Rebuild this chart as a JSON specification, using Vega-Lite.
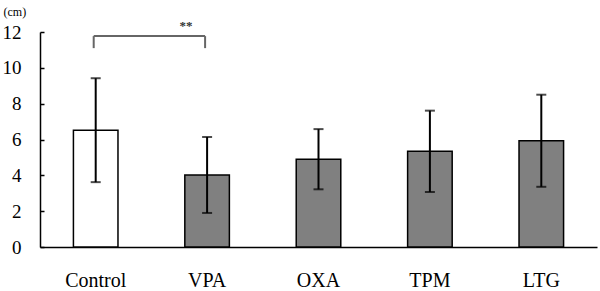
{
  "$schema": "https://vega.github.io/schema/vega-lite/v6.json",
  "width": 557,
  "height": 215,
  "autosize": {"type": "none"},
  "padding": {"left": 40, "top": 32, "right": 3, "bottom": 44},
  "background": "white",
  "config": {
    "view": {"stroke": null},
    "font": "Liberation Serif",
    "axis": {"labelFont": "Liberation Serif", "titleFont": "Liberation Serif"},
    "axisY": {
      "title": "(cm)",
      "titleAngle": 0,
      "titleFontSize": 12,
      "titleFontWeight": "normal",
      "titleAlign": "left",
      "titleBaseline": "middle",
      "titleX": -37,
      "titleY": -21,
      "titleColor": "#000",
      "labelOverlap": false,
      "grid": false,
      "tickSize": -4,
      "tickColor": "#000",
      "tickWidth": 1.5,
      "domainColor": "#000",
      "domainWidth": 1.5,
      "labelFontSize": 19,
      "labelColor": "#000",
      "labelPadding": 23
    }
  },
  "datasets": {
    "groups": [
      {"group": "Control", "mean": 6.52, "sd": 2.9},
      {"group": "VPA", "mean": 4.02, "sd": 2.12},
      {"group": "OXA", "mean": 4.9, "sd": 1.68},
      {"group": "TPM", "mean": 5.34, "sd": 2.27},
      {"group": "LTG", "mean": 5.93, "sd": 2.57}
    ],
    "bracket": [
      {"group": "Control", "top": 11.77, "bottom": 11.1},
      {"group": "VPA", "top": 11.77, "bottom": 11.1}
    ],
    "sig": [{"label": "**", "y": 12.33}]
  },
  "encoding": {
    "x": {
      "field": "group",
      "type": "nominal",
      "sort": ["Control", "VPA", "OXA", "TPM", "LTG"],
      "scale": {"paddingInner": 0.6, "paddingOuter": 0.3},
      "axis": {
        "title": null,
        "labelAngle": 0,
        "labelFontSize": 20,
        "labelColor": "#000",
        "labelPadding": 23,
        "ticks": false,
        "domainColor": "#000",
        "domainWidth": 1.5
      }
    }
  },
  "layer": [
    {
      "data": {"name": "groups"},
      "mark": {"type": "bar", "stroke": "#000", "strokeWidth": 1.5},
      "encoding": {
        "y": {
          "field": "mean",
          "type": "quantitative",
          "title": "(cm)",
          "scale": {"domain": [0, 12]},
          "axis": {"values": [0, 2, 4, 6, 8, 10, 12]}
        },
        "fill": {
          "field": "group",
          "type": "nominal",
          "scale": {"domain": ["Control", "VPA", "OXA", "TPM", "LTG"], "range": ["#ffffff", "#808080", "#808080", "#808080", "#808080"]},
          "legend": null
        }
      }
    },
    {
      "data": {"name": "groups"},
      "mark": {
        "type": "errorbar",
        "ticks": {"size": 10, "thickness": 2, "color": "#000"},
        "rule": {"strokeWidth": 2, "color": "#000"}
      },
      "encoding": {
        "y": {"field": "mean", "type": "quantitative", "title": "(cm)", "axis": {"values": [0, 2, 4, 6, 8, 10, 12]}},
        "yError": {"field": "sd"}
      }
    },
    {
      "data": {"name": "bracket"},
      "mark": {"type": "rule", "color": "#666", "strokeWidth": 2, "xOffset": -2},
      "encoding": {
        "y": {"field": "top", "type": "quantitative", "title": "(cm)", "axis": {"values": [0, 2, 4, 6, 8, 10, 12]}},
        "y2": {"field": "bottom"}
      }
    },
    {
      "data": {"name": "bracket"},
      "mark": {"type": "line", "color": "#666", "strokeWidth": 2, "xOffset": -2},
      "encoding": {
        "y": {"field": "top", "type": "quantitative", "title": "(cm)", "axis": {"values": [0, 2, 4, 6, 8, 10, 12]}}
      }
    },
    {
      "data": {"name": "sig"},
      "mark": {"type": "text", "fontSize": 13, "fontWeight": "bold", "color": "#333", "x": 146, "baseline": "middle", "clip": false},
      "encoding": {
        "x": null,
        "y": {"field": "y", "type": "quantitative", "title": "(cm)", "axis": {"values": [0, 2, 4, 6, 8, 10, 12]}},
        "text": {"field": "label"}
      }
    }
  ]
}
